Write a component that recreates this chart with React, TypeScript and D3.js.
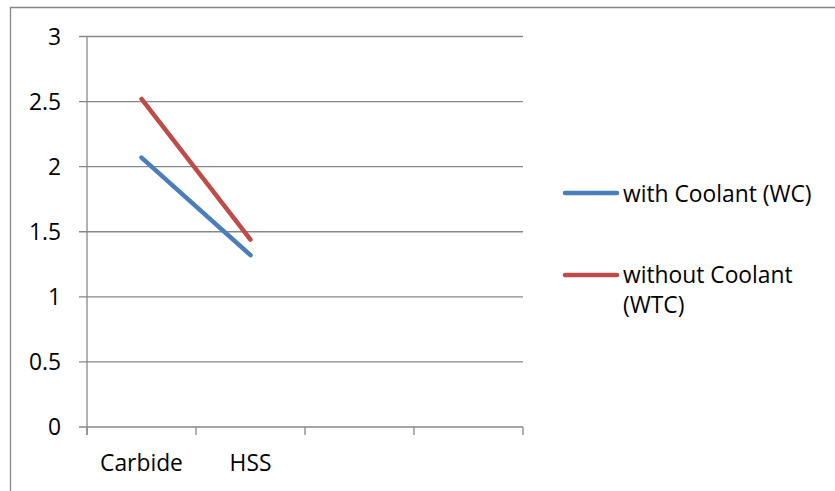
import React from "react";
import * as d3 from "d3";

const categories = ["Carbide", "HSS"];
const slotCount = 4;
const withCoolant = [2.07, 1.32];
const withoutCoolant = [2.52, 1.44];
const yTicks = [0, 0.5, 1, 1.5, 2, 2.5, 3];
const seriesNames = ["with Coolant (WC)", "without Coolant (WTC)"];

const W = 835;
const H = 491;
const FONT = "'Open Sans', Lato, sans-serif";
const GRID = "#878787";

export default function App() {
  const x = d3.scaleBand<number>().domain(d3.range(slotCount)).range([87, 523]).padding(0);
  const y = d3.scaleLinear().domain([0, 3]).range([427, 36.5]);
  const line = d3
    .line<number>()
    .x((_, i) => (x(i) as number) + x.bandwidth() / 2)
    .y((d) => y(d));

  const series = [
    { name: seriesNames[0], values: withCoolant, color: "#4A7EBB" },
    { name: seriesNames[1], values: withoutCoolant, color: "#BE4B48" },
  ];
  const fs = 22.8;

  return (
    <div style={{ position: "absolute", left: 0, top: 0 }}>
      <svg width={W} height={H} style={{ display: "block" }}>
        <rect x={0} y={0} width={W} height={H} fill="#fff" />
        {/* outer frame */}
        <path d={`M10.5,${H} V7.5 H${W}`} fill="none" stroke={GRID} strokeWidth={1.3} />
        {/* gridlines */}
        {yTicks.map((t) => (
          <line key={t} x1={79} x2={523} y1={y(t)} y2={y(t)} stroke={GRID} strokeWidth={1.3} />
        ))}
        {/* y axis */}
        <line x1={87} x2={87} y1={y(3)} y2={435} stroke={GRID} strokeWidth={1.3} />
        {/* x ticks */}
        {d3.range(slotCount + 1).map((i) => {
          const xx = i < slotCount ? (x(i) as number) : x.range()[1];
          return <line key={i} x1={xx} x2={xx} y1={427} y2={435} stroke={GRID} strokeWidth={1.3} />;
        })}
        {/* y tick labels */}
        {yTicks.map((t) => (
          <text key={t} x={61} y={y(t) + 8} textAnchor="end" fontFamily={FONT} fontSize={fs} fill="#000">
            {String(t)}
          </text>
        ))}
        {/* category labels */}
        {categories.map((c, i) => (
          <text key={c} x={(x(i) as number) + x.bandwidth() / 2} y={470.5} textAnchor="middle" fontFamily={FONT} fontSize={fs} fill="#000">
            {c}
          </text>
        ))}
        {/* series */}
        {series.map((s) => (
          <path key={s.name} d={line(s.values) || ""} fill="none" stroke={s.color} strokeWidth={4.5} strokeLinecap="round" strokeLinejoin="round" />
        ))}
        {/* legend */}
        <line x1={565} x2={617} y1={193} y2={193} stroke={series[0].color} strokeWidth={4.5} strokeLinecap="round" />
        <text x={623} y={201.5} fontFamily={FONT} fontSize={fs} fill="#000">with Coolant (WC)</text>
        <line x1={565} x2={617} y1={275} y2={275} stroke={series[1].color} strokeWidth={4.5} strokeLinecap="round" />
        <text x={623} y={283} fontFamily={FONT} fontSize={fs} fill="#000">
          <tspan x={623}>without Coolant</tspan>
          <tspan x={623} dy={30}>(WTC)</tspan>
        </text>
      </svg>
    </div>
  );
}
